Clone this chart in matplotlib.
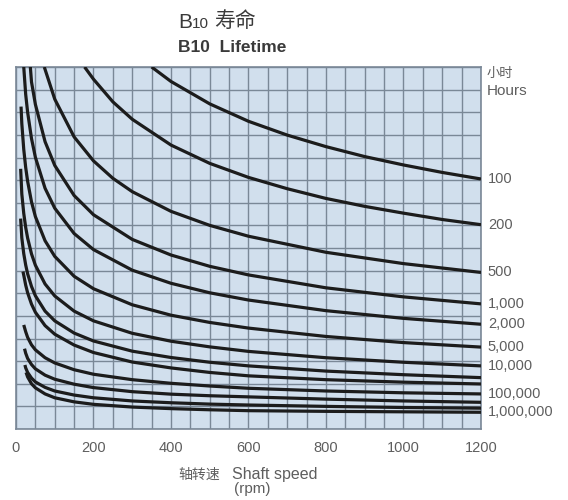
import matplotlib
matplotlib.use("Agg")
import matplotlib.pyplot as plt
import numpy as np

plt.rcParams['font.family'] = ['Liberation Sans', 'Noto Sans CJK SC', 'DejaVu Sans']

# ---- data (y in grid units, 0 = bottom, 16 = top) ----
speed_ticks = [0, 200, 400, 600, 800, 1000, 1200]

c100_x = [350, 400, 500, 600, 700, 800, 900, 1000, 1100, 1200]
c100_y = [16.0, 15.36, 14.37, 13.60, 12.99, 12.48, 12.04, 11.67, 11.34, 11.05]

c200_x = [177, 200, 250, 300, 400, 500, 600, 700, 800, 900, 1000, 1100, 1200]
c200_y = [16.0, 15.46, 14.46, 13.69, 12.55, 11.74, 11.12, 10.62, 10.19, 9.84, 9.54, 9.26, 9.03]

c500_x = [73, 100, 150, 200, 250, 300, 400, 500, 600, 800, 1000, 1200]
c500_y = [16.0, 14.58, 12.91, 11.85, 11.08, 10.49, 9.62, 9.00, 8.52, 7.81, 7.31, 6.92]

c1000_x = [37, 40, 50, 75, 100, 150, 200, 300, 400, 500, 600, 800, 1000, 1200]
c1000_y = [16.0, 15.34, 14.35, 12.70, 11.65, 10.32, 9.47, 8.38, 7.69, 7.19, 6.81, 6.24, 5.84, 5.53]

c2000_x = [20, 25, 30, 40, 50, 75, 100, 150, 200, 300, 400, 500, 600, 800, 1000, 1200]
c2000_y = [16.0, 14.79, 14.00, 12.84, 12.01, 10.64, 9.76, 8.64, 7.93, 7.02, 6.44, 6.02, 5.70, 5.23, 4.89, 4.63]

c5000_x = [13, 15, 20, 25, 30, 40, 50, 75, 100, 150, 200, 300, 400, 500, 600, 800, 1000, 1200]
c5000_y = [14.25, 13.50, 12.36, 11.56, 10.95, 10.04, 9.39, 8.32, 7.63, 6.75, 6.20, 5.49, 5.03, 4.71, 4.46, 4.09, 3.82, 3.62]

c10k_x = [12, 15, 20, 25, 30, 40, 50, 75, 100, 150, 200, 300, 400, 500, 600, 800, 1000, 1200]
c10k_y = [11.5, 10.39, 9.53, 8.91, 8.44, 7.74, 7.24, 6.41, 5.88, 5.21, 4.78, 4.23, 3.88, 3.63, 3.43, 3.15, 2.95, 2.79]

c20k_x = [12, 15, 20, 25, 30, 40, 50, 75, 100, 150, 200, 300, 400, 500, 600, 800, 1000, 1200]
c20k_y = [9.3, 8.45, 7.75, 7.25, 6.86, 6.30, 5.89, 5.21, 4.78, 4.24, 3.89, 3.44, 3.16, 2.95, 2.79, 2.56, 2.40, 2.27]

c50k_x = [18, 20, 25, 30, 40, 50, 75, 100, 150, 200, 300, 400, 500, 600, 800, 1000, 1200]
c50k_y = [6.96, 6.80, 6.36, 6.02, 5.52, 5.16, 4.57, 4.19, 3.71, 3.38, 2.96, 2.70, 2.50, 2.35, 2.18, 2.07, 1.99]

c100k_x = [20, 25, 30, 40, 50, 75, 100, 150, 200, 300, 400, 500, 600, 800, 1000, 1200]
c100k_y = [4.60, 4.30, 4.05, 3.72, 3.50, 3.15, 2.92, 2.62, 2.42, 2.18, 2.02, 1.90, 1.80, 1.68, 1.60, 1.55]

c200k_x = [22, 25, 30, 40, 50, 75, 100, 150, 200, 300, 400, 500, 600, 800, 1000, 1200]
c200k_y = [3.55, 3.35, 3.12, 2.85, 2.66, 2.38, 2.20, 1.98, 1.83, 1.65, 1.54, 1.47, 1.42, 1.32, 1.24, 1.18]

c500k_x = [23, 25, 30, 40, 50, 75, 100, 150, 200, 300, 400, 500, 600, 800, 1000, 1200]
c500k_y = [2.83, 2.70, 2.50, 2.25, 2.08, 1.84, 1.68, 1.50, 1.38, 1.24, 1.16, 1.10, 1.06, 1.00, 0.95, 0.92]

c1m_x = [26, 30, 40, 50, 75, 100, 150, 200, 300, 400, 500, 600, 800, 1000, 1200]
c1m_y = [2.50, 2.30, 2.00, 1.82, 1.55, 1.38, 1.20, 1.09, 0.97, 0.90, 0.85, 0.81, 0.78, 0.76, 0.74]

curves = [
    (c100_x, c100_y, "100"),
    (c200_x, c200_y, "200"),
    (c500_x, c500_y, "500"),
    (c1000_x, c1000_y, "1,000"),
    (c2000_x, c2000_y, "2,000"),
    (c5000_x, c5000_y, "5,000"),
    (c10k_x, c10k_y, "10,000"),
    (c20k_x, c20k_y, ""),
    (c50k_x, c50k_y, ""),
    (c100k_x, c100k_y, "100,000"),
    (c200k_x, c200k_y, ""),
    (c500k_x, c500k_y, ""),
    (c1m_x, c1m_y, "1,000,000"),
]

CJK = ['Noto Sans CJK SC', 'DejaVu Sans']

# ---- figure ----
fig = plt.figure(figsize=(5.68, 5.0), dpi=100)
fig.patch.set_facecolor('white')
ax = fig.add_axes([16/568, 71/500, 465/568, 362/500])
ax.set_facecolor('#d1dfed')
ax.set_xlim(0, 1200)
ax.set_ylim(0, 16)

grid_color = '#7a8897'
for gx in np.arange(0, 1201, 50):
    ax.axvline(gx, color=grid_color, lw=1.0, zorder=1)
for gy in np.arange(0, 17, 1):
    ax.axhline(gy, color=grid_color, lw=1.0, zorder=1)
for s in ax.spines.values():
    s.set_color(grid_color)
    s.set_linewidth(1.2)

text_color = '#5e5e5e'
for xs, ys, lab in curves:
    ax.plot(xs, ys, color='#1c1c1c', lw=2.3, solid_capstyle='butt', zorder=3, clip_on=True)
    if lab:
        ax.annotate(lab, xy=(1200, ys[-1]), xytext=(5, 0), textcoords='offset points',
                    va='center', ha='left', fontsize=10.5, color=text_color,
                    annotation_clip=False)

ax.set_xticks(speed_ticks)
ax.set_xticklabels([str(v) for v in speed_ticks], fontsize=10.5, color=text_color)
ax.tick_params(axis='x', length=0, pad=9)
ax.set_yticks([])

# right-side unit label
fig.text(487/568, 1 - 74/500, "小时", fontsize=9.5, color=text_color,
         ha='left', va='center', family=CJK)
fig.text(487/568, 1 - 91/500, "Hours", fontsize=11, color=text_color,
         ha='left', va='center')

# title
title_color = '#3a3a3a'
fig.text(178/568, 1 - 22/500, "B", fontsize=15, color=title_color, ha='left', va='center')
fig.text(192/568, 1 - 23.5/500, "10", fontsize=11, color=title_color, ha='left', va='center')
fig.text(214/568, 1 - 21/500, "寿命", fontsize=15, color=title_color, ha='left', va='center',
         family=CJK)
fig.text(178/568, 1 - 48/500, "B10  Lifetime", fontsize=12.5, color=title_color,
         ha='left', va='center', fontweight='bold')

# x-axis label
fig.text(220/568, 1 - 475/500, "轴转速", fontsize=10, color=text_color, ha='right', va='center',
         family=CJK)
fig.text(232/568, 1 - 475/500, "Shaft speed", fontsize=11.5, color=text_color, ha='left', va='center')
fig.text(252/568, 1 - 489/500, "(rpm)", fontsize=11, color=text_color, ha='center', va='center')

fig.savefig("out.png", dpi=100, facecolor='white')
